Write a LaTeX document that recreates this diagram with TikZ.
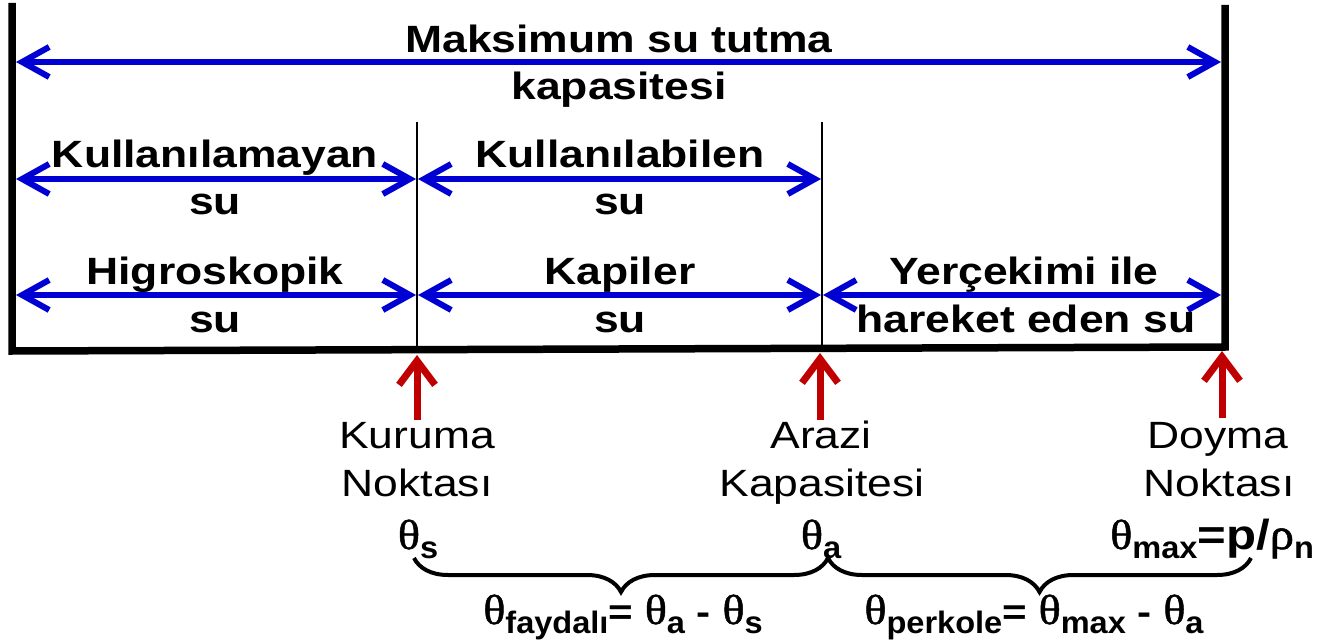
\documentclass[tikz,border=0pt]{standalone}
\usepackage{fontspec}
\usetikzlibrary{arrows.meta,decorations.pathreplacing}
\newfontfamily\labfont{Liberation Sans}[FakeStretch=1.17]
\newfontfamily\subfont{Liberation Sans}[FakeStretch=1.05]
\newfontfamily\thfont{Liberation Serif}[FakeStretch=1.1,FakeBold=1.2]
\definecolor{arrblue}{RGB}{0,0,210}
\definecolor{arrred}{RGB}{192,0,0}
\newcommand{\Th}{{\fontsize{42}{42}\selectfont\thfont θ}}
\newcommand{\Rh}{{\fontsize{44}{44}\selectfont\thfont ρ}}
\newcommand{\Sb}[1]{\raisebox{-9pt}{\fontsize{31}{31}\selectfont\subfont\bfseries #1}}
\newcommand{\Bs}[1]{{\fontsize{36}{36}\selectfont\labfont\bfseries #1}}
\newcommand{\Bp}[1]{{\fontsize{42}{42}\selectfont\labfont\bfseries #1}}
\begin{document}
\begin{tikzpicture}[x=1pt,y=-1pt,
  bigtxt/.style={font=\fontsize{38}{40}\selectfont\labfont\bfseries, inner sep=0pt, anchor=base},
  labtxt/.style={font=\fontsize{38}{40}\selectfont\labfont, inner sep=0pt, anchor=base},
  frm/.style={line width=7.5pt, line join=miter},
  divl/.style={line width=1.8pt},
  barr/.style={draw=arrblue, line width=6pt, {Straight Barb[length=27pt,width=30pt]}-{Straight Barb[length=27pt,width=30pt]}},
  rarr/.style={draw=arrred, line width=7pt, -{Straight Barb[length=24pt,width=36pt]}},
  brc/.style={decorate, decoration={brace, amplitude=34pt}, line width=4pt},
  formula/.style={inner sep=0pt, anchor=base}]
\useasboundingbox (0,0) rectangle (1332,644);

% frame
\coordinate (FTL) at (12,3);
\coordinate (FBL) at (12,351);
\coordinate (FBR) at (1225,347);
\coordinate (FTR) at (1225,5);
\draw[frm] (FTL) -- (FBL) -- (FBR) -- (FTR);

% dividers
\coordinate (D1t) at (417,122); \coordinate (D1b) at (417,349);
\coordinate (D2t) at (822,122); \coordinate (D2b) at (822,348);
\draw[divl] (D1t) -- (D1b);
\draw[divl] (D2t) -- (D2b);

% blue arrows
\coordinate (A0l) at (16,62);   \coordinate (A0r) at (1221,62);
\coordinate (A1l) at (16,179);  \coordinate (A1m) at (416,179);
\coordinate (A1n) at (418,179); \coordinate (A1r) at (821,179);
\coordinate (A2l) at (16,295);  \coordinate (A2m) at (416,295);
\coordinate (A2n) at (418,295); \coordinate (A2o) at (821,295);
\coordinate (A2p) at (823,295); \coordinate (A2r) at (1221,295);
\draw[barr] (A0l) -- (A0r);
\draw[barr] (A1l) -- (A1m);
\draw[barr] (A1n) -- (A1r);
\draw[barr] (A2l) -- (A2m);
\draw[barr] (A2n) -- (A2o);
\draw[barr] (A2p) -- (A2r);

% texts in the frame
\node[bigtxt] (t0a) at (619,53) {Maksimum su tutma};
\node[bigtxt] (t0b) at (619,100) {kapasitesi};
\node[bigtxt] (t1a) at (215,168) {Kullanılamayan};
\node[bigtxt] (t1b) at (215,215) {su};
\node[bigtxt] (t2a) at (620,168) {Kullanılabilen};
\node[bigtxt] (t2b) at (620,215) {su};
\node[bigtxt] (t3a) at (215,284) {Higroskopik};
\node[bigtxt] (t3b) at (215,332) {su};
\node[bigtxt] (t4a) at (620,284) {Kapiler};
\node[bigtxt] (t4b) at (620,332) {su};
\node[bigtxt] (t5a) at (1024,284) {Yerçekimi ile};
\node[bigtxt] (t5b) at (1026,332) {hareket eden su};

% red arrows
\coordinate (R1s) at (417,420); \coordinate (R1e) at (417,355);
\coordinate (R2s) at (820,420); \coordinate (R2e) at (820,353);
\coordinate (R3s) at (1222,418); \coordinate (R3e) at (1222,351);
\draw[rarr] (R1s) -- (R1e);
\draw[rarr] (R2s) -- (R2e);
\draw[rarr] (R3s) -- (R3e);

% point labels
\node[labtxt] (k1) at (417,448) {Kuruma};
\node[labtxt] (k2) at (417,496) {Noktası};
\node[labtxt] (a1) at (821,448) {Arazi};
\node[labtxt] (a2) at (822,496) {Kapasitesi};
\node[labtxt] (d1) at (1218,448) {Doyma};
\node[labtxt] (d2) at (1219,496) {Noktası};

% theta symbols
\node[formula] (ths) at (418,549) {\Th\Sb{s}};
\node[formula] (tha) at (821,549) {\Th\Sb{a}};
\node[formula, anchor=base west] (thm) at (1110,549) {\Th\Sb{max}\Bp{=p/}\Rh\Sb{n}};

% braces
\coordinate (B1r) at (828,558); \coordinate (B1l) at (414,558);
\coordinate (B2r) at (1251,558); \coordinate (B2l) at (828,558);
\draw[brc] (B1r) -- (B1l);
\draw[brc] (B2r) -- (B2l);

% formulas
\node[formula] (f1) at (623,624) {\Th\Sb{faydalı}\Bs{= }\Th\Sb{a}\Bs{ - }\Th\Sb{s}};
\node[formula] (f2) at (1034,624) {\Th\Sb{perkole}\Bs{= }\Th\Sb{max}\Bs{ - }\Th\Sb{a}};
\end{tikzpicture}
\end{document}
